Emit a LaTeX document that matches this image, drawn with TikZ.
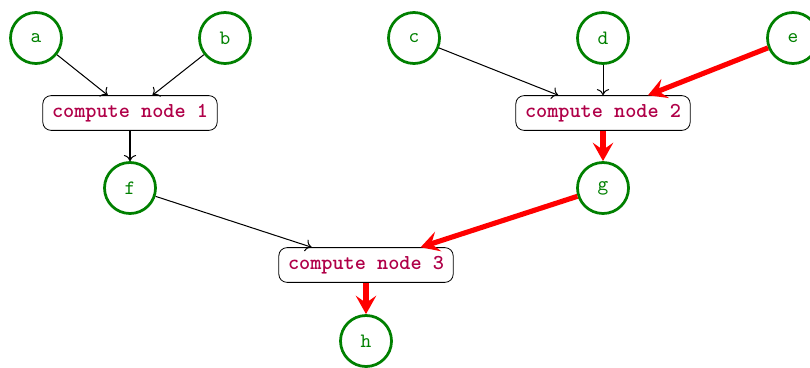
\documentclass[tikz,border=0pt]{standalone}
\usetikzlibrary{arrows.meta}
\definecolor{vargreen}{RGB}{0,128,0}
\definecolor{opred}{RGB}{176,0,72}
\begin{document}
\begin{tikzpicture}[x=0.49pt,y=-0.49pt,
  var/.style={circle,draw=vargreen,line width=1.35pt,minimum size=25pt,inner sep=0pt,
              text=vargreen,font=\ttfamily},
  op/.style={draw,rounded corners=4pt,inner xsep=4.5pt,minimum height=17pt,
             text=opred,font=\fontsize{10.4}{12}\ttfamily\bfseries},
  flow/.style={-{To[length=3pt,width=6pt]},line width=0.5pt},
  hot/.style={-{Stealth[length=9pt,width=10pt,inset=3.5pt]},draw=red,line width=2.5pt}]
  \useasboundingbox (0,0) rectangle (810,367);

  % inputs
  \node[var] (a) at (36,38) {a};
  \node[var] (b) at (225,38) {b};
  \node[var] (c) at (414,38) {c};
  \node[var] (d) at (603,38) {d};
  \node[var] (e) at (793,38) {e};

  % compute nodes
  \node[op] (n1) at (130,113) {compute node 1};
  \node[op] (n2) at (603,113) {compute node 2};
  \node[op] (n3) at (366,265) {compute node 3};

  % intermediate and output values
  \node[var] (f) at (130,188) {f};
  \node[var] (g) at (603,188) {g};
  \node[var] (h) at (366,341) {h};

  % ordinary data flow
  \draw[flow] (a) -- (n1);
  \draw[flow] (b) -- (n1);
  \draw[flow] (n1) -- (f);
  \draw[flow] (c) -- (n2);
  \draw[flow] (d) -- (n2);
  \draw[flow] (f) -- (n3);

  % highlighted path
  \draw[hot] (e) -- (n2);
  \draw[hot] (n2) -- (g);
  \draw[hot] (g) -- (n3);
  \draw[hot] (n3) -- (h);
\end{tikzpicture}
\end{document}
